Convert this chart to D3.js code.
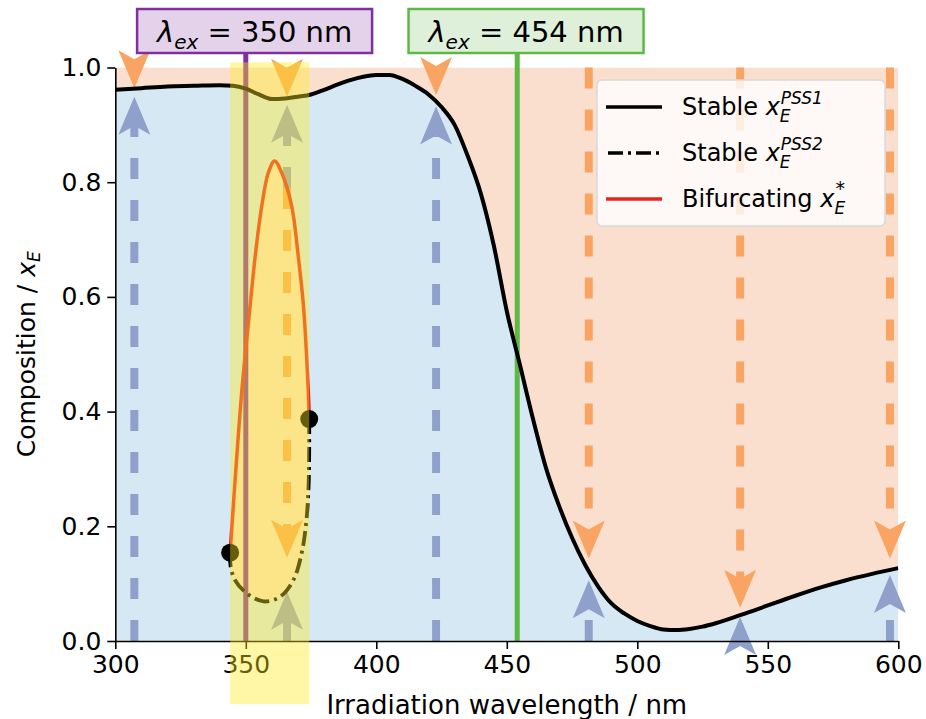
<!DOCTYPE html>
<html>
<head>
<meta charset="utf-8">
<script src="https://cdn.jsdelivr.net/npm/d3@7"></script>
<style>
  html, body { margin: 0; padding: 0; background: #ffffff; }
  svg { display: block; }
  text { font-family: "DejaVu Sans", sans-serif; }
</style>
</head>
<body>
<svg id="chart" width="926" height="719"></svg>
<script>
// ---- data ---------------------------------------------------------------
// Upper stable branch x_E^PSS1 versus irradiation wavelength (nm)
const wavelengths = [300, 310, 320, 330, 340, 345, 350, 355, 360, 365, 370, 375, 380, 385, 390, 395,
  400, 405, 410, 415, 420, 425, 430, 435, 440, 445, 450, 455, 460, 465, 470, 475, 480, 485, 490,
  495, 500, 505, 510, 515, 520, 525, 530, 540, 550, 560, 570, 580, 590, 600];
const pss1 = [0.961, 0.964, 0.967, 0.968, 0.969, 0.968, 0.963, 0.953, 0.945, 0.946, 0.949, 0.953,
  0.961, 0.970, 0.978, 0.984, 0.987, 0.987, 0.980, 0.968, 0.953, 0.931, 0.900, 0.846, 0.781,
  0.690, 0.575, 0.482, 0.388, 0.302, 0.236, 0.180, 0.133, 0.095, 0.066, 0.048, 0.035, 0.026,
  0.020, 0.019, 0.021, 0.025, 0.031, 0.046, 0.062, 0.078, 0.093, 0.106, 0.117, 0.127];

// Unstable (bifurcating) branch x_E*, traced from the left fold to the right fold
const bifWl = [344.0, 345.5, 347.2, 348.5, 350.0, 351.0, 353.6, 356.1, 358.6, 361.0, 363.8,
  367.6, 370.1, 372.1, 373.3, 374.0, 374.3];
const bifX = [0.154, 0.255, 0.363, 0.438, 0.510, 0.554, 0.671, 0.758, 0.816, 0.837, 0.816,
  0.758, 0.671, 0.584, 0.496, 0.430, 0.387];

// Lower stable branch x_E^PSS2, traced from the right fold back to the left fold
const pss2Wl = [374.3, 374.3, 374.0, 373.1, 371.4, 368.2, 363.1, 356.8, 350.4, 345.9, 344.2, 344.0];
const pss2 = [0.387, 0.339, 0.264, 0.205, 0.153, 0.106, 0.077, 0.069, 0.083, 0.106, 0.130, 0.154];

// Fold (saddle-node) points
const foldWl = [344.0, 374.3];
const foldX = [0.154, 0.387];

// Bistable window and the two excitation wavelengths
const bistableWindow = [344.0, 374.3];
const bandLimits = [-0.11, 1.009];
const excitationWl = [350, 454];
const excitationLabel = ["350 nm", "454 nm"];

// Flow arrows: wavelength, start and end composition, direction of flow
const arrowWl   = [307.3, 307.3, 365.8, 365.8, 365.8, 365.8, 422.9, 422.9, 481.4, 481.4, 539.4, 539.4, 596.8, 596.8];
const arrowFrom = [1.0,   0.0,   1.0,   0.79,  0.79,  0.0,   1.0,   0.0,   1.0,   0.0,   1.0,   0.0,   1.0,   0.0];
const arrowTo   = [0.964, 0.949, 0.949, 0.935, 0.145, 0.086, 0.952, 0.932, 0.144, 0.106, 0.058, 0.042, 0.144, 0.115];
const arrowKind = ["down", "up", "down", "up", "down", "up", "down", "up", "down", "up", "down", "up", "down", "up"];

const xTicks = [300, 350, 400, 450, 500, 550, 600];
const yTicks = [0.0, 0.2, 0.4, 0.6, 0.8, 1.0];

const legendLabels = [
  { base: "Stable ", sub: "E", sup: "PSS1", kind: "solid" },
  { base: "Stable ", sub: "E", sup: "PSS2", kind: "dashdot" },
  { base: "Bifurcating ", sub: "E", sup: "*", kind: "red" }
];

// ---- styling ------------------------------------------------------------
const C = {
  blueFill: "#d7e8f5",
  orangeFill: "#fadfcf",
  arrowDown: "#f9a462",
  arrowUp: "#8fa0cb",
  band: "rgba(255,235,30,0.4)",
  purple: "#7f2f9f",
  purpleBox: "#e3d2e9",
  green: "#5cb946",
  greenBox: "#dff0da",
  red: "#e8221e"
};

const svg = d3.select("#chart");
const x = d3.scaleLinear().domain([300, 600]).range([115.3, 898.3]);
const y = d3.scaleLinear().domain([0, 1]).range([641, 67.5]);

const defs = svg.append("defs");
defs.append("clipPath").attr("id", "plotClip")
  .append("rect")
  .attr("x", x(300)).attr("y", y(1))
  .attr("width", x(600) - x(300)).attr("height", y(0) - y(1));

const pss1Pts = wavelengths.map((w, i) => [w, pss1[i]]);

// ---- region fills -------------------------------------------------------
const plot = svg.append("g").attr("clip-path", "url(#plotClip)");
plot.append("path")
  .datum(pss1Pts)
  .attr("fill", C.blueFill)
  .attr("d", d3.area().x(d => x(d[0])).y0(y(0)).y1(d => y(d[1])).curve(d3.curveMonotoneX));
plot.append("path")
  .datum(pss1Pts)
  .attr("fill", C.orangeFill)
  .attr("d", d3.area().x(d => x(d[0])).y0(y(1)).y1(d => y(d[1])).curve(d3.curveMonotoneX));

const bifPts = bifWl.map((w, i) => [w, bifX[i]]);
const pss2Pts = pss2Wl.map((w, i) => [w, pss2[i]]);
const loopLine = d3.line().x(d => x(d[0])).y(d => y(d[1])).curve(d3.curveCatmullRom.alpha(0.5));

plot.append("path")
  .datum(bifPts.concat(pss2Pts.slice(1)))
  .attr("fill", C.orangeFill)
  .attr("d", d3.line().x(d => x(d[0])).y(d => y(d[1])).curve(d3.curveCatmullRomClosed.alpha(0.5)));

// ---- flow arrows ---------------------------------------------------------
const headLen = 38, headHalf = 16, notch = 29;
const arrows = svg.append("g");
arrowWl.forEach((w, i) => {
  const px = x(w);
  const y0 = y(arrowFrom[i]);
  const y1 = y(arrowTo[i]);
  const dir = arrowKind[i] === "down" ? 1 : -1;
  const col = arrowKind[i] === "down" ? C.arrowDown : C.arrowUp;
  const shaftEnd = y1 - dir * notch;
  if ((shaftEnd - y0) * dir > 0) {
    arrows.append("line")
      .attr("x1", px).attr("x2", px)
      .attr("y1", y0).attr("y2", shaftEnd)
      .attr("stroke", col)
      .attr("stroke-width", 8)
      .attr("stroke-dasharray", "21,21");
  }
  const head = d3.path();
  head.moveTo(px, y1);
  head.lineTo(px + headHalf, y1 - dir * headLen);
  head.lineTo(px, y1 - dir * notch);
  head.lineTo(px - headHalf, y1 - dir * headLen);
  head.closePath();
  arrows.append("path").attr("d", head.toString()).attr("fill", col);
});

// ---- excitation lines ----------------------------------------------------
const exColors = [C.purple, C.green];
excitationWl.forEach((w, i) => {
  svg.append("line")
    .attr("x1", x(w)).attr("x2", x(w))
    .attr("y1", 53).attr("y2", y(0))
    .attr("stroke", exColors[i])
    .attr("stroke-width", 5);
});

// ---- branches ------------------------------------------------------------
svg.append("path")
  .datum(pss1Pts)
  .attr("fill", "none")
  .attr("stroke", "#000")
  .attr("stroke-width", 4)
  .attr("clip-path", "url(#plotClip)")
  .attr("d", d3.line().x(d => x(d[0])).y(d => y(d[1])).curve(d3.curveMonotoneX));

svg.append("path")
  .datum(pss2Pts)
  .attr("fill", "none")
  .attr("stroke", "#000")
  .attr("stroke-width", 3.8)
  .attr("stroke-dasharray", "15,5,3,5")
  .attr("d", loopLine);

svg.append("path")
  .datum(bifPts)
  .attr("fill", "none")
  .attr("stroke", C.red)
  .attr("stroke-width", 3.5)
  .attr("d", loopLine);

svg.selectAll(".fold")
  .data(foldWl.map((w, i) => [w, foldX[i]]))
  .enter().append("circle")
  .attr("class", "fold")
  .attr("cx", d => x(d[0])).attr("cy", d => y(d[1]))
  .attr("r", 9)
  .attr("fill", "#000");

// ---- axes ----------------------------------------------------------------
const xAxis = svg.append("g")
  .attr("transform", `translate(0,${y(0)})`)
  .call(d3.axisBottom(x).tickValues(xTicks).tickFormat(d3.format("d")).tickSize(8).tickSizeOuter(0).tickPadding(6));
const yAxis = svg.append("g")
  .attr("transform", `translate(${x(300)},0)`)
  .call(d3.axisLeft(y).tickValues(yTicks).tickFormat(d3.format(".1f")).tickSize(8).tickSizeOuter(0).tickPadding(6));
[xAxis, yAxis].forEach(a => {
  a.selectAll("path.domain").attr("stroke", "#000").attr("stroke-width", 1.6);
  a.selectAll(".tick line").attr("stroke", "#000").attr("stroke-width", 1.6);
  a.selectAll(".tick text").attr("font-size", 25).attr("fill", "#000")
    .attr("font-family", "DejaVu Sans");
});

svg.append("text")
  .attr("x", (x(300) + x(600)) / 2).attr("y", 714)
  .attr("text-anchor", "middle")
  .attr("font-size", 26)
  .text("Irradiation wavelength / nm");

const yl = svg.append("text")
  .attr("transform", `translate(35,${(y(0) + y(1)) / 2}) rotate(-90)`)
  .attr("text-anchor", "middle")
  .attr("font-size", 25);
yl.append("tspan").text("Composition / ");
yl.append("tspan").attr("font-style", "italic").text("x");
yl.append("tspan").attr("font-style", "italic").attr("font-size", 17).attr("dy", 5).text("E");

// ---- bistable window -----------------------------------------------------
svg.append("rect")
  .attr("x", x(bistableWindow[0]))
  .attr("width", x(bistableWindow[1]) - x(bistableWindow[0]))
  .attr("y", y(bandLimits[1]))
  .attr("height", y(bandLimits[0]) - y(bandLimits[1]))
  .attr("fill", C.band);

// ---- legend --------------------------------------------------------------
const lg = svg.append("g").attr("transform", "translate(597,80)");
lg.append("rect")
  .attr("width", 288).attr("height", 146)
  .attr("rx", 5).attr("ry", 5)
  .attr("fill", "rgba(255,255,255,0.8)")
  .attr("stroke", "#d9d9d9").attr("stroke-width", 1.5);
legendLabels.forEach((L, i) => {
  const cy = 27 + i * 46;
  const ln = lg.append("line")
    .attr("x1", 9).attr("x2", 65).attr("y1", cy).attr("y2", cy)
    .attr("stroke", L.kind === "red" ? C.red : "#000")
    .attr("stroke-width", 3.5);
  if (L.kind === "dashdot") ln.attr("stroke-dasharray", "15,5,3,5").attr("x1", 11);
  // one text element: label, italic x, then subscript and superscript stacked
  const t = lg.append("text").attr("x", 85).attr("y", cy + 8).attr("font-size", 24);
  t.append("tspan").text(L.base);
  t.append("tspan").attr("font-style", "italic").text("x");
  const w = t.node().getComputedTextLength();
  t.append("tspan").attr("font-style", "italic").attr("font-size", 17)
    .attr("dy", 7).text(L.sub);
  t.append("tspan").attr("font-style", "italic")
    .attr("font-size", L.sup === "*" ? 19 : 17)
    .attr("x", 85 + w + 1).attr("dy", L.sup === "*" ? -19 : -18).text(L.sup);
});

// ---- excitation labels ---------------------------------------------------
const boxFill = [C.purpleBox, C.greenBox];
excitationWl.forEach((w, i) => {
  const left = x(w) - 108.7;
  const g = svg.append("g");
  g.append("rect")
    .attr("x", left).attr("y", 9)
    .attr("width", 235).attr("height", 44)
    .attr("fill", boxFill[i])
    .attr("stroke", exColors[i]).attr("stroke-width", 2.5);
  const t = g.append("text")
    .attr("x", left + 117.5).attr("y", 42)
    .attr("text-anchor", "middle")
    .attr("font-size", 29);
  t.append("tspan").attr("font-style", "italic").text("λ");
  t.append("tspan").attr("font-style", "italic").attr("font-size", 20).attr("dy", 7).text("ex");
  t.append("tspan").attr("dy", -7).text(" = " + excitationLabel[i]);
});
</script>
</body>
</html>
